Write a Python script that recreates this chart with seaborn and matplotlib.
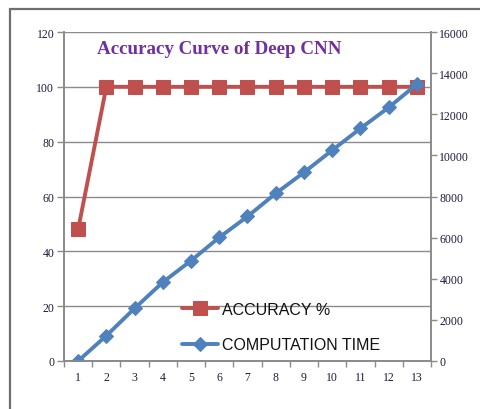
import numpy as np
import pandas as pd
import seaborn as sns
import matplotlib.pyplot as plt
from matplotlib.patches import Rectangle

epochs = list(range(1, 14))
accuracy = [48, 100, 100, 100, 100, 100, 100, 100, 100, 100, 100, 100, 100]
comp_time = [0, 1230, 2560, 3830, 4880, 6010, 7030, 8150, 9170, 10250, 11310, 12330, 13460]
left_ticks = [0, 20, 40, 60, 80, 100, 120]
right_ticks = [0, 2000, 4000, 6000, 8000, 10000, 12000, 14000, 16000]
title_text = "Accuracy Curve of Deep CNN"
acc_label = "ACCURACY %"
time_label = "COMPUTATION TIME"

RED = "#c0504d"
BLUE = "#4f81bd"
GRAY = "#8a8a8a"
TICKC = "#1c1c3c"

sns.set_style("white")
plt.rcParams['font.family'] = ['Liberation Serif', 'DejaVu Serif']

df = pd.DataFrame({"epoch": epochs, "acc": accuracy, "time": comp_time})

fig = plt.figure(figsize=(4.8, 4.1), dpi=100)
ax = fig.add_axes([64/480, 1-362/410, (431-64)/480, (362-33)/410])
ax2 = ax.twinx()

sns.lineplot(data=df, x="epoch", y="acc", ax=ax, color=RED, marker='s', markersize=10,
             markeredgecolor=RED, linewidth=2.8, label=acc_label, legend=False)
sns.lineplot(data=df, x="epoch", y="time", ax=ax2, color=BLUE, marker='D', markersize=7,
             markeredgecolor=BLUE, linewidth=2.8, label=time_label, legend=False)

ax.set_xlim(0.5, 13.5)
ax.set_ylim(0, 120)
ax2.set_ylim(0, 16000)
ax.set_yticks(left_ticks)
ax2.set_yticks(right_ticks)
ax.set_xticks(epochs)
ax.set_xticks([e + 0.5 for e in range(0, 14)], minor=True)
ax.set_xlabel("")
ax.set_ylabel("")
ax2.set_ylabel("")

ax.grid(axis='y', color=GRAY, linewidth=1.0)
ax.grid(axis='x', visible=False)
ax2.grid(False)

for a in (ax, ax2):
    for s in a.spines.values():
        s.set_color(GRAY)
        s.set_linewidth(1.2)
    a.spines['top'].set_visible(False)

ax.tick_params(axis='x', which='major', length=0, pad=7, labelsize=8.5, labelcolor=TICKC)
ax.tick_params(axis='x', which='minor', length=4, color=GRAY, width=1, direction='out', bottom=True)
ax.tick_params(axis='y', length=5, color=GRAY, width=1, direction='out', left=True, pad=2,
               labelsize=8.5, labelcolor=TICKC)
ax2.tick_params(axis='y', length=4, color=GRAY, width=1, direction='out', right=True, pad=2,
                labelsize=8.5, labelcolor=TICKC)

ax.text(0.09, 0.95, title_text, transform=ax.transAxes, ha='left', va='center',
        fontsize=13.7, fontweight='bold', color="#7030a0", family=['Liberation Serif'])

h1, l1 = ax.get_legend_handles_labels()
h2, l2 = ax2.get_legend_handles_labels()
leg = ax2.legend(h1 + h2, l1 + l2, loc='upper left', bbox_to_anchor=(0.30, 0.205),
                 frameon=False, borderpad=0, handlelength=2.25, handletextpad=0.25,
                 labelspacing=1.3, prop={'family': 'Liberation Sans', 'size': 11.5})
for t in leg.get_texts():
    t.set_color("#111111")

fig.add_artist(Rectangle((10/480, -0.2), 1.2, 1.2 - 10/410, transform=fig.transFigure,
                         fill=False, edgecolor="#6e6e6e", linewidth=1.6))

fig.savefig("out.png", dpi=100, facecolor='white')
